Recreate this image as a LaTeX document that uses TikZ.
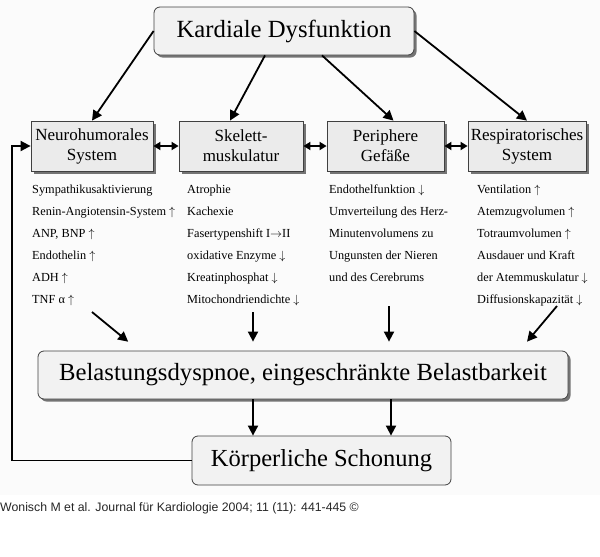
\documentclass[tikz,border=0pt]{standalone}
\usepackage{fontspec}
\setmainfont{Liberation Serif}
\newfontfamily\quellfont{Liberation Sans}
\usepackage{tikz}
\usetikzlibrary{arrows.meta,shadows}

\newcommand{\hoch}{$\uparrow$}
\newcommand{\runter}{$\downarrow$}

\tikzset{
  kasten/.style={draw=black!75, line width=0.8pt, fill=black!8, inner sep=0pt,
    minimum height=50pt, align=center, font=\fontsize{17}{20}\selectfont,
    drop shadow={shadow xshift=2.5pt, shadow yshift=-2.5pt, fill=black!60, opacity=0.9}},
  rundkasten/.style={draw=black!75, line width=0.8pt, fill=black!5, inner sep=0pt,
    rounded corners=6pt, minimum height=48pt, font=\fontsize{24.7}{28}\selectfont},
  schatten/.style={drop shadow={shadow xshift=2.5pt, shadow yshift=-2.5pt, fill=black!60, opacity=0.9}},
  liste/.style={anchor=north west, inner sep=0pt, align=left, font=\fontsize{12.3}{22}\selectfont},
  pfeil/.style={line width=1.8pt, -{Triangle[length=10pt,width=10pt]}},
  doppelpfeil/.style={line width=1.8pt, {Triangle[length=7pt,width=8pt]}-{Triangle[length=7pt,width=8pt]}}
}

\begin{document}
\begin{tikzpicture}[x=1pt,y=-1pt]
                \useasboundingbox (0,0) rectangle (600,557);
                \fill[black!1.5] (0,0) rectangle (600,495);

                \node[rundkasten, schatten, minimum width=260pt] (kardial) at (284,31) {Kardiale Dysfunktion};

                \node[kasten, minimum width=122pt] (neuro) at (92,146) {Neurohumorales\\System};
                \node[kasten, minimum width=124pt] (skelett) at (241,146) {Skelett-\\muskulatur};
                \node[kasten, minimum width=117pt] (periph) at (385.5,146) {Periphere\\Gefäße};
                \node[kasten, minimum width=118pt] (resp) at (527,146) {Respiratorisches\\System};

                \node[liste] (neuroliste) at (32,184.5) {Sympathikusaktivierung\\Renin-Angiotensin-System \hoch\\ANP, BNP \hoch\\Endothelin \hoch\\ADH \hoch\\TNF α \hoch};
                \node[liste] (skelettliste) at (187,184.5) {Atrophie\\Kachexie\\Fasertypenshift I$\rightarrow$II\\oxidative Enzyme \runter\\Kreatinphosphat \runter\\Mitochondriendichte \runter};
                \node[liste] (periphliste) at (329,184.5) {Endothelfunktion \runter\\Umverteilung des Herz-\\Minutenvolumens zu\\Ungunsten der Nieren\\und des Cerebrums};
                \node[liste] (respliste) at (477,184.5) {Ventilation \hoch\\Atemzugvolumen \hoch\\Totraumvolumen \hoch\\Ausdauer und Kraft\\der Atemmuskulatur \runter\\Diffusionskapazität \runter};

                \node[rundkasten, schatten, minimum width=530pt] (belast) at (303,375) {Belastungsdyspnoe, eingeschränkte Belastbarkeit};
                \node[rundkasten, minimum width=259pt, minimum height=49pt, font=\fontsize{24.5}{28}\selectfont] (schon) at (321.5,460.5) {Körperliche Schonung};

                \node[anchor=west, inner sep=0pt, text=black!85, font=\quellfont\fontsize{12.3}{14}\selectfont] (quelle) at (0,508) {Wonisch M et al. Journal für Kardiologie 2004; 11 (11): 441-445 ©};

                \draw[pfeil] (kardial.west) -- (neuro.north);
                \draw[pfeil] ([xshift=-19pt]kardial.south) -- ([xshift=-11pt]skelett.north);
                \draw[pfeil] ([xshift=38pt]kardial.south) -- ([xshift=8pt]periph.north);
                \draw[pfeil] (kardial.east) -- (resp.north);

                \draw[doppelpfeil] (neuro.east) -- (skelett.west);
                \draw[doppelpfeil] (skelett.east) -- (periph.west);
                \draw[doppelpfeil] (periph.east) -- (resp.west);

                \coordinate (n1) at (92,312);
                \coordinate (n2) at (253,312);
                \coordinate (n3) at (389,306);
                \coordinate (n4) at (557,306);
                \draw[pfeil, shorten >=14pt] (n1) -- ([xshift=-164pt]belast.north);
                \draw[pfeil, shorten >=9pt] (n2) -- ([xshift=-50pt]belast.north);
                \draw[pfeil, shorten >=9pt] (n3) -- ([xshift=86pt]belast.north);
                \draw[pfeil, shorten >=11.7pt] (n4) -- ([xshift=216.5pt]belast.north);

                \draw[pfeil] ([xshift=-50pt]belast.south) -- ([xshift=-50pt]belast.south |- schon.north);
                \draw[pfeil] ([xshift=88pt]belast.south) -- ([xshift=88pt]belast.south |- schon.north);

                \coordinate (links) at (12,0);
                \draw[pfeil] (schon.west) -- (schon.west -| links) |- (neuro.west);
            \end{tikzpicture}
\end{document}
